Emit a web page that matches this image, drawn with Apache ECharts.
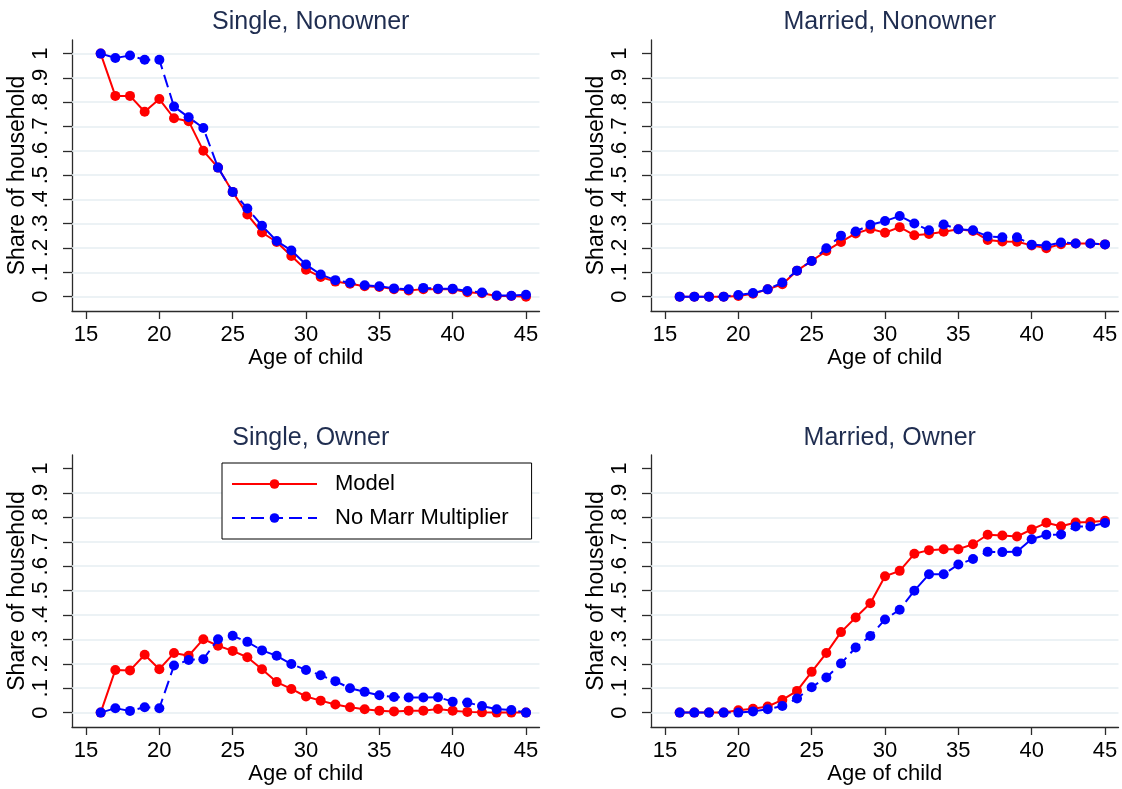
<!DOCTYPE html>
<html>
<head>
<meta charset="utf-8">
<script src="https://cdn.jsdelivr.net/npm/echarts@6/dist/echarts.min.js"></script>
<style>
  html, body { margin: 0; padding: 0; background: #ffffff; }
  #chart { width: 1122px; height: 789px; }
</style>
</head>
<body>
<div id="chart"></div>
<script>
// Age of the child (x values shared by every panel)
const ages = [16, 17, 18, 19, 20, 21, 22, 23, 24, 25, 26, 27, 28, 29, 30,
              31, 32, 33, 34, 35, 36, 37, 38, 39, 40, 41, 42, 43, 44, 45];

// Axis ticks and their labels
const xTicks = [15, 20, 25, 30, 35, 40, 45];
const xTickLabels = ['15', '20', '25', '30', '35', '40', '45'];
const yTicks = [0, 0.1, 0.2, 0.3, 0.4, 0.5, 0.6, 0.7, 0.8, 0.9, 1];
const yTickLabels = ['0', '.1', '.2', '.3', '.4', '.5', '.6', '.7', '.8', '.9', '1'];

// Horizontal grid lines drawn in each panel
const gridLinesFull = [0, 0.1, 0.2, 0.3, 0.4, 0.5, 0.6, 0.7, 0.8, 0.9, 1];
const gridLinesNoTop = [0, 0.1, 0.2, 0.3, 0.4, 0.5, 0.6, 0.7, 0.8, 0.9];

const panelTitles = ['Single, Nonowner', 'Married, Nonowner', 'Single, Owner', 'Married, Owner'];
const seriesNames = ['Model', 'No Marr Multiplier'];

// Share of household, baseline model
const modelSingleNonowner = [1.0, 0.826, 0.826, 0.761, 0.813, 0.734, 0.722, 0.600, 0.531, 0.431,
  0.338, 0.264, 0.225, 0.167, 0.111, 0.081, 0.062, 0.053, 0.043, 0.040,
  0.031, 0.025, 0.031, 0.031, 0.030, 0.018, 0.014, 0.003, 0.003, 0.0];
const modelMarriedNonowner = [0, 0, 0, 0, 0.003, 0.012, 0.030, 0.051, 0.107, 0.147,
  0.188, 0.225, 0.260, 0.279, 0.263, 0.286, 0.253, 0.258, 0.267, 0.277,
  0.270, 0.233, 0.227, 0.226, 0.211, 0.199, 0.216, 0.219, 0.219, 0.215];
const modelSingleOwner = [0, 0.175, 0.173, 0.237, 0.178, 0.244, 0.233, 0.301, 0.274, 0.253,
  0.227, 0.178, 0.125, 0.097, 0.066, 0.049, 0.033, 0.022, 0.014, 0.008,
  0.005, 0.008, 0.008, 0.015, 0.008, 0.003, 0.001, 0, 0, 0];
const modelMarriedOwner = [0, 0, 0, 0, 0.010, 0.016, 0.025, 0.052, 0.089, 0.167,
  0.244, 0.330, 0.390, 0.448, 0.559, 0.581, 0.651, 0.666, 0.670, 0.670,
  0.690, 0.729, 0.726, 0.722, 0.751, 0.778, 0.764, 0.779, 0.781, 0.786];

// Share of household, no marriage multiplier
const noMarrSingleNonowner = [1.0, 0.982, 0.992, 0.975, 0.975, 0.782, 0.738, 0.694, 0.531, 0.431,
  0.363, 0.292, 0.229, 0.190, 0.132, 0.091, 0.068, 0.057, 0.047, 0.043,
  0.034, 0.030, 0.036, 0.033, 0.033, 0.023, 0.017, 0.005, 0.004, 0.008];
const noMarrMarriedNonowner = [0, 0, 0, 0, 0.007, 0.015, 0.030, 0.058, 0.107, 0.147,
  0.199, 0.251, 0.268, 0.296, 0.311, 0.332, 0.301, 0.273, 0.297, 0.277,
  0.273, 0.248, 0.244, 0.244, 0.214, 0.210, 0.223, 0.219, 0.219, 0.215];
const noMarrSingleOwner = [0, 0.018, 0.007, 0.022, 0.018, 0.193, 0.216, 0.219, 0.301, 0.315,
  0.290, 0.255, 0.233, 0.199, 0.175, 0.153, 0.129, 0.100, 0.085, 0.071,
  0.064, 0.062, 0.062, 0.063, 0.045, 0.041, 0.027, 0.014, 0.011, 0];
const noMarrMarriedOwner = [0, 0, 0, 0, 0, 0.005, 0.014, 0.027, 0.058, 0.104,
  0.144, 0.201, 0.267, 0.314, 0.382, 0.422, 0.500, 0.567, 0.567, 0.607,
  0.630, 0.659, 0.658, 0.660, 0.711, 0.729, 0.730, 0.763, 0.763, 0.777];

const FONT = '"Liberation Sans", Arial, Helvetica, sans-serif';
const AXIS_COLOR = '#2b2b2b';
const GRID_COLOR = '#e6eef2';
const TITLE_COLOR = '#1f2d50';
const RED = '#ff0000';
const BLUE = '#0000ff';

const panels = [
  { title: panelTitles[0], model: modelSingleNonowner, alt: noMarrSingleNonowner, left: 72,  top: 40,  height: 271, titleTop: 5,   grid: gridLinesFull },
  { title: panelTitles[1], model: modelMarriedNonowner, alt: noMarrMarriedNonowner, left: 651, top: 40,  height: 271, titleTop: 5,   grid: gridLinesNoTop },
  { title: panelTitles[2], model: modelSingleOwner, alt: noMarrSingleOwner, left: 72,  top: 455, height: 272, titleTop: 421, grid: gridLinesNoTop },
  { title: panelTitles[3], model: modelMarriedOwner, alt: noMarrMarriedOwner, left: 651, top: 455, height: 272, titleTop: 421, grid: gridLinesNoTop }
];
const PANEL_WIDTH = 467.5;

function yLabel(v) {
  const i = yTicks.findIndex(t => Math.abs(t - v) < 1e-6);
  return i >= 0 ? yTickLabels[i] : '';
}
function xLabel(v) {
  const i = xTicks.indexOf(v);
  return i >= 0 ? xTickLabels[i] : '';
}

const grids = [], xAxes = [], yAxes = [], series = [], titles = [];

panels.forEach((p, i) => {
  grids.push({ left: p.left, top: p.top, width: PANEL_WIDTH, height: p.height, containLabel: false });

  titles.push({
    text: p.title,
    left: p.left + PANEL_WIDTH / 2,
    top: p.titleTop,
    textAlign: 'center',
    textStyle: { fontSize: 25, fontWeight: 'normal', color: TITLE_COLOR, fontFamily: FONT }
  });

  xAxes.push({
    type: 'value', gridIndex: i, min: 14.045, max: 45.92,
    name: 'Age of child', nameLocation: 'middle', nameGap: 35,
    nameTextStyle: { fontSize: 22, color: '#000', fontFamily: FONT },
    axisLine: { show: true, onZero: false, lineStyle: { color: AXIS_COLOR, width: 1.3 } },
    axisTick: { show: true, inside: false, length: 8, customValues: xTicks, lineStyle: { color: AXIS_COLOR, width: 1.3 } },
    axisLabel: { show: true, customValues: xTicks, margin: 13, fontSize: 22, color: '#000', fontFamily: FONT, formatter: xLabel },
    splitLine: { show: false }
  });

  yAxes.push({
    type: 'value', gridIndex: i, min: -0.059, max: 1.056,
    name: 'Share of household', nameLocation: 'middle', nameGap: 37,
    nameTextStyle: { fontSize: 23, color: '#000', fontFamily: FONT },
    axisLine: { show: true, onZero: false, lineStyle: { color: AXIS_COLOR, width: 1.3 } },
    axisTick: { show: true, inside: false, length: 9, customValues: yTicks, lineStyle: { color: AXIS_COLOR, width: 1.3 } },
    axisLabel: { show: true, customValues: yTicks, rotate: 90, margin: 20, fontSize: 22, color: '#000', fontFamily: FONT, formatter: yLabel },
    splitLine: { show: false }
  });

  series.push({
    type: 'line', name: seriesNames[0], xAxisIndex: i, yAxisIndex: i,
    data: ages.map((a, k) => [a, p.model[k]]),
    symbol: 'circle', symbolSize: 10, showSymbol: true, z: 3,
    color: RED,
    itemStyle: { color: RED },
    lineStyle: { color: RED, width: 2 },
    emphasis: { disabled: true },
    markLine: {
      silent: true, z: 1, animation: false,
      symbol: ['none', 'none'],
      label: { show: false },
      emphasis: { disabled: true },
      lineStyle: { color: GRID_COLOR, width: 1.5, type: 'solid' },
      data: p.grid.map(v => ({ yAxis: v }))
    }
  });

  series.push({
    type: 'line', name: seriesNames[1], xAxisIndex: i, yAxisIndex: i,
    data: ages.map((a, k) => [a, p.alt[k]]),
    symbol: 'circle', symbolSize: 10, showSymbol: true, z: 4,
    color: BLUE,
    itemStyle: { color: BLUE },
    lineStyle: { color: BLUE, width: 2, type: [13, 6] },
    emphasis: { disabled: true }
  });
});

const chart = echarts.init(document.getElementById('chart'), null, { renderer: 'canvas' });
chart.setOption({
  backgroundColor: '#ffffff',
  animation: false,
  title: titles,
  grid: grids,
  xAxis: xAxes,
  yAxis: yAxes,
  legend: {
    data: seriesNames,
    orient: 'vertical',
    left: 222, top: 463,
    padding: [10, 23, 10, 9],
    itemGap: 12,
    itemWidth: 85, itemHeight: 12,
    borderColor: '#000', borderWidth: 1,
    backgroundColor: '#ffffff',
    selectedMode: false,
    textStyle: { fontSize: 22, color: '#000', fontFamily: FONT, padding: [0, 0, 0, 13] }
  },
  series: series
});
</script>
</body>
</html>
